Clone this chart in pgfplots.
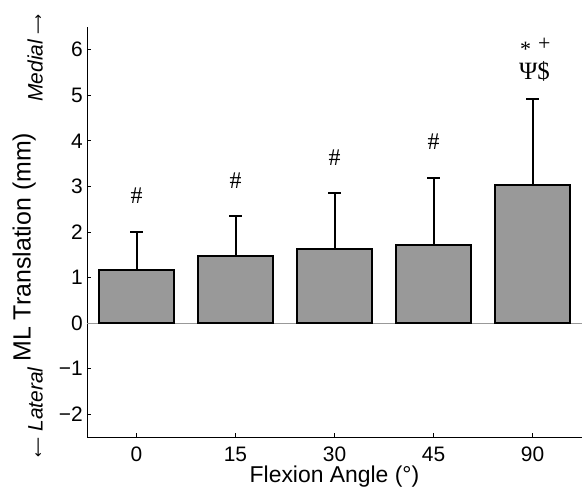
\documentclass[border=0pt]{standalone}
\usepackage{fontspec}
\setmainfont{Liberation Sans}
\newfontfamily\serif{Liberation Serif}
\newfontfamily\dejavu{DejaVu Sans}
\usepackage{pgfplots}
\usepackage{pgfplotstable}
\pgfplotsset{compat=1.18}

\definecolor{bargray}{RGB}{153,153,153}

% mean and +SD per flexion angle
\pgfplotstableread{
x y err
0 1.16 0.84
1 1.47 0.88
2 1.63 1.22
3 1.72 1.47
4 3.04 1.88
}\mldata

\begin{document}
\begin{tikzpicture}
\begin{axis}[
  scale only axis,
  width=495bp, height=410bp,
  xmin=-0.5, xmax=4.5,
  ymin=-2.5, ymax=6.5,
  axis lines=left,
  axis line style={-, line width=1bp},
  ybar, bar width=75bp, bar shift=0pt,
  xtick={0,1,2,3,4},
  xticklabels={0,15,30,45,90},
  ytick={-2,-1,0,1,2,3,4,5,6},
  yticklabels={−2,−1,0,1,2,3,4,5,6},
  tick align=inside,
  major tick length=4bp,
  tick style={black, line width=1bp},
  ticklabel style={font=\fontsize{21}{24}\selectfont},
  xticklabel style={anchor=base, yshift=-24bp},
  yticklabel style={inner sep=0pt, xshift=-4bp},
  xlabel={Flexion Angle (°)},
  xlabel style={font=\fontsize{23}{26}\selectfont, inner sep=0pt, at={(axis description cs:0.5,0)}, anchor=base, yshift=-45bp},
  ylabel={ML Translation (mm)},
  ylabel style={font=\fontsize{25}{30}\selectfont, at={(axis description cs:-0.127,0.463)}, anchor=center},
  extra y ticks={0},
  extra y tick labels={},
  extra y tick style={grid=major, major grid style={gray!80, line width=0.7bp}, major tick length=0pt},
  clip=false,
]
\addplot[fill=bargray, draw=black, line width=2bp,
  error bars/.cd, y dir=plus, y explicit,
  error mark=-,
  error mark options={rotate=90, black, line width=2bp, mark size=6.5bp},
  error bar style={black, line width=2bp}]
  table[x=x, y=y, y error=err] {\mldata};

\node[font=\serif\fontsize{24}{26}\selectfont, inner sep=0pt] at (axis cs:0,2.79) {\#};
\node[font=\serif\fontsize{24}{26}\selectfont, inner sep=0pt] at (axis cs:1,3.13) {\#};
\node[font=\serif\fontsize{24}{26}\selectfont, inner sep=0pt] at (axis cs:2,3.64) {\#};
\node[font=\serif\fontsize{24}{26}\selectfont, inner sep=0pt] at (axis cs:3,3.98) {\#};
\node[font=\serif\fontsize{25}{28}\selectfont, inner sep=0pt] at (axis cs:4.02,5.52) {Ψ\$};
\node[font=\serif\fontsize{22}{24}\selectfont, inner sep=0pt] at (axis cs:3.93,6.02) {*};
\node[font=\serif\fontsize{22}{24}\selectfont, inner sep=0pt] at (axis cs:4.12,6.12) {+};

\node[rotate=90, font=\itshape\fontsize{21}{24}\selectfont] at (axis description cs:-0.105,0.925) {Medial {\upshape\dejavu\fontsize{14}{16}\selectfont ⟶}};
\node[rotate=90, font=\itshape\fontsize{21}{24}\selectfont] at (axis description cs:-0.105,0.06) {{\upshape\dejavu\fontsize{14}{16}\selectfont ⟵} Lateral};
\end{axis}
\pgfresetboundingbox
\path ([shift={(-87bp,-49bp)}]current axis.south west) rectangle ([shift={(4bp,27bp)}]current axis.north east);
\end{tikzpicture}
\end{document}
